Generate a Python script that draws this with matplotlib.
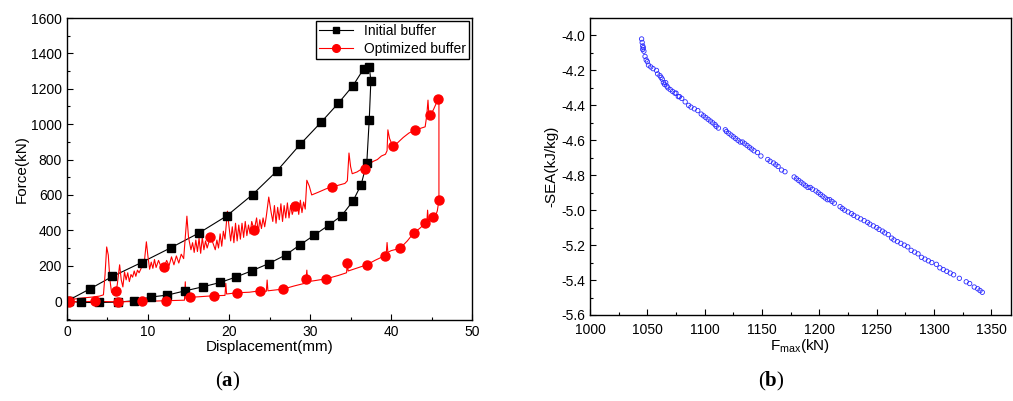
import numpy as np
import matplotlib
matplotlib.use('Agg')
import matplotlib.pyplot as plt
from matplotlib.ticker import MultipleLocator

plt.rcParams['font.family'] = ['Liberation Sans', 'DejaVu Sans']
plt.rcParams['mathtext.fontset'] = 'custom'
plt.rcParams['mathtext.bf'] = 'Liberation Serif:bold'
plt.rcParams['mathtext.rm'] = 'Liberation Sans'

# initial buffer (loading then unloading)
init_x = [0, 2.8, 5.6, 9.2, 12.8, 16.3, 19.7, 22.9, 25.9, 28.8, 31.4, 33.5, 35.3, 36.6, 37.3,
          37.5, 37.3, 37.0, 36.3, 35.3, 33.9, 32.3, 30.5, 28.7, 27.0, 24.9, 22.8, 20.8, 18.9,
          16.8, 14.6, 12.4, 10.4, 8.3, 6.3, 4.0, 1.7, 0.2]
init_y = [0, 68, 139, 218, 301, 385, 481, 602, 735, 887, 1013, 1119, 1218, 1312, 1325,
          1245, 1025, 782, 658, 566, 483, 429, 372, 316, 261, 212, 171, 135, 105,
          81, 58, 34, 23, 2, -6, -8, -8, 0]

# optimized buffer curve
opt_x = [0, 0.3, 1, 2, 3, 4, 4.5, 4.7, 4.9, 5.1, 5.3, 5.5, 5.8, 6.0, 6.2, 6.5, 6.7, 6.9, 7.1, 7.3,
         7.5, 7.7, 7.9, 8.1, 8.3, 8.5, 8.7, 8.9, 9.2, 9.5, 9.8, 10.0, 10.2, 10.4, 10.6, 10.8, 11.0,
         11.3, 11.6, 12.0, 12.3, 12.6, 12.9, 13.2, 13.5, 13.8, 14.1, 14.4, 14.8, 15.0, 15.3, 15.5,
         15.7, 15.9, 16.1, 16.3, 16.5, 16.7, 16.9, 17.1, 17.3, 17.7, 18.0, 18.3, 18.5, 18.7, 18.9,
         19.1, 19.3, 19.5, 19.8, 20.0, 20.2, 20.4, 20.6, 20.8, 21.0, 21.2, 21.4, 21.6, 21.8, 22.0,
         22.2, 22.4, 22.6, 22.8, 23.1, 23.4, 23.6, 23.8, 24.0, 24.2, 24.4, 24.6, 24.9, 25.2, 25.4,
         25.6, 25.8, 26.0, 26.2, 26.4, 26.6, 26.8, 27.0, 27.2, 27.4, 27.6, 27.8, 28.1, 28.4, 28.6,
         28.8, 29.0, 29.2, 29.4, 29.6, 29.9, 30.2, 31.0, 32.0, 32.7, 33.5, 34.3, 34.6, 34.8, 35.0,
         35.2, 35.8, 36.3, 36.8, 37.3, 37.8, 38.3, 38.8, 39.3, 39.5, 39.6, 39.8, 40.2, 40.8, 41.5,
         42.2, 42.9, 43.5, 44.2, 44.4, 44.55, 44.65, 44.8, 45.2, 45.5, 45.8, 45.9,
         45.9, 45.7, 45.5, 45.2, 44.8, 44.6, 44.5, 44.4, 44.2, 43.5, 42.8, 42.0, 41.1, 40.0, 39.6,
         39.5, 39.4, 39.2, 38.0, 37.0, 36.0, 35.0, 34.7, 34.6, 34.5, 33.5, 32.0, 30.5, 29.7, 29.6,
         29.5, 29.3, 28.0, 26.7, 25.5, 24.8, 24.7, 24.6, 23.8, 22.5, 21.0, 19.7, 19.6, 19.5, 18.1,
         16.5, 15.2, 14.7, 14.6, 14.5, 12.2, 9.3, 6.3, 3.5, 0.3]
opt_y = [0, 5, 12, 18, 22, 28, 35, 150, 306, 260, 120, 50, 45, 56, 90, 205, 120, 80, 165, 120,
         160, 110, 150, 135, 170, 140, 175, 160, 190, 200, 335, 250, 180, 220, 185, 235, 190,
         230, 195, 194, 230, 200, 250, 205, 255, 215, 265, 240, 480, 360, 290, 330,
         275, 345, 280, 355, 270, 360, 290, 340, 300, 363, 330, 290, 345, 300, 380,
         310, 395, 350, 508, 420, 340, 420, 330, 440, 340, 430, 350, 440, 360, 450,
         370, 430, 380, 450, 400, 470, 390, 460, 410, 470, 420, 480, 588, 500, 450,
         540, 440, 530, 460, 550, 450, 540, 470, 555, 470, 540, 490, 538, 560, 490,
         570, 500, 560, 520, 683, 650, 600, 615, 635, 645, 655, 665, 680, 837, 760,
         720, 730, 745, 748, 775, 790, 800, 820, 830, 850, 968, 920, 876, 895, 925,
         950, 966, 975, 985, 1050, 1136, 1060, 1051, 1080, 1110, 1141, 1140,
         570, 510, 485, 476, 470, 455, 514, 440, 439, 410, 386, 340, 298, 285, 275,
         331, 270, 256, 230, 205, 190, 175, 170, 213, 160, 145, 126, 115, 110, 175,
         122, 100, 85, 68, 62, 58, 119, 55, 58, 50, 47, 40, 100, 32, 30,
         25, 21, 15, 109, 5, 2, -2, -4, -2, -4]
opt_mx = [0.3, 6.0, 12.0, 17.7, 23.1, 28.1, 32.7, 36.8, 40.2, 42.9, 44.8, 45.8,
          45.9, 45.2, 44.2, 42.8, 41.1, 39.2, 37.0, 34.6, 32.0, 29.5, 26.7, 23.8, 21.0, 18.1,
          15.2, 12.2, 9.3, 6.3, 3.5, 0.3]
opt_my = [0, 56, 194, 363, 400, 538, 645, 748, 876, 966, 1051, 1141,
          570, 476, 439, 386, 298, 256, 205, 213, 126, 122, 68, 58, 47, 30,
          21, 2, -2, -4, -2, -4]

# Pareto points
fmax = [1045, 1045.5, 1046, 1046, 1047, 1046.5, 1048, 1049, 1050, 1051, 1053, 1055, 1058, 1059,
        1061, 1062, 1063, 1064, 1065, 1066, 1067, 1068, 1070, 1072, 1074, 1075, 1077, 1078, 1080,
        1083, 1086, 1088, 1091, 1094, 1097, 1099, 1101, 1103, 1105, 1107, 1109, 1110, 1112, 1118,
        1119, 1121, 1123, 1125, 1127, 1129, 1131, 1133, 1135, 1137, 1139, 1141, 1143, 1146, 1149,
        1155, 1157, 1160, 1162, 1164, 1167, 1170, 1178, 1180, 1182, 1184, 1186, 1188, 1190, 1192,
        1194, 1197, 1199, 1201, 1203, 1205, 1207, 1209, 1211, 1213, 1218, 1220, 1222, 1225, 1228,
        1230, 1233, 1236, 1239, 1242, 1244, 1247, 1250, 1252, 1255, 1257, 1260, 1263, 1265, 1268,
        1271, 1274, 1277, 1280, 1283, 1286, 1289, 1292, 1295, 1298, 1302, 1305, 1308, 1311, 1314,
        1317, 1322, 1328, 1331, 1335, 1338, 1340, 1342]
sea = [-4.02, -4.04, -4.06, -4.08, -4.09, -4.07, -4.12, -4.14, -4.15, -4.17, -4.18, -4.19, -4.20,
       -4.22, -4.23, -4.24, -4.25, -4.27, -4.28, -4.27, -4.29, -4.30, -4.31, -4.32, -4.33, -4.33,
       -4.35, -4.35, -4.36, -4.38, -4.40, -4.41, -4.42, -4.43, -4.45, -4.46, -4.47, -4.48, -4.49,
       -4.50, -4.51, -4.52, -4.53, -4.54, -4.55, -4.56, -4.57, -4.58, -4.59, -4.60, -4.61, -4.61,
       -4.62, -4.63, -4.64, -4.65, -4.66, -4.67, -4.69, -4.71, -4.72, -4.73, -4.74, -4.75, -4.77,
       -4.78, -4.81, -4.82, -4.83, -4.84, -4.85, -4.86, -4.87, -4.87, -4.88, -4.89, -4.90, -4.91,
       -4.92, -4.93, -4.94, -4.94, -4.95, -4.96, -4.98, -4.99, -5.00, -5.01, -5.02, -5.03, -5.04,
       -5.05, -5.06, -5.07, -5.08, -5.09, -5.10, -5.11, -5.12, -5.13, -5.14, -5.16, -5.17, -5.18,
       -5.19, -5.20, -5.21, -5.23, -5.24, -5.25, -5.27, -5.28, -5.29, -5.30, -5.31, -5.33, -5.34,
       -5.35, -5.36, -5.37, -5.39, -5.41, -5.42, -5.44, -5.45, -5.46, -5.47]

fig = plt.figure(figsize=(10.13, 4.01), dpi=100)
ax1 = fig.add_axes([0.0661, 0.202, 0.400, 0.753])
ax2 = fig.add_axes([0.5824, 0.2145, 0.4156, 0.7406])

ax1.plot(init_x, init_y, color='black', lw=0.8)
ax1.plot(opt_x, opt_y, color='red', lw=0.8)
ax1.plot(init_x, init_y, color='black', marker='s', ms=6, ls='none')
ax1.plot(opt_mx, opt_my, color='red', marker='o', ms=6.5, ls='none')
h1, = ax1.plot([], [], color='black', lw=0.8, marker='s', ms=5)
h2, = ax1.plot([], [], color='red', lw=0.8, marker='o', ms=5.5)
leg = ax1.legend([h1, h2], ['Initial buffer', 'Optimized buffer'], loc='upper right',
                 fontsize=10, fancybox=False, edgecolor='black', framealpha=1,
                 borderaxespad=0.2, handlelength=2.4, borderpad=0.25, labelspacing=0.25)
leg.get_frame().set_linewidth(1.0)

ax1.set_xlim(0, 50)
ax1.set_ylim(-107, 1600)
ax1.xaxis.set_major_locator(MultipleLocator(10))
ax1.xaxis.set_minor_locator(MultipleLocator(5))
ax1.yaxis.set_major_locator(MultipleLocator(200))
ax1.yaxis.set_minor_locator(MultipleLocator(100))
ax1.set_xlabel('Displacement(mm)', fontsize=11, labelpad=1)
ax1.set_ylabel('Force(kN)', fontsize=11, labelpad=2)

ax2.scatter(fmax, sea, s=10, facecolors='none', edgecolors='#2a2aff', linewidths=0.6)
ax2.set_xlim(1000, 1367)
ax2.set_ylim(-5.6, -3.9)
ax2.xaxis.set_major_locator(MultipleLocator(50))
ax2.xaxis.set_minor_locator(MultipleLocator(25))
ax2.yaxis.set_minor_locator(MultipleLocator(0.1))
ax2.set_yticks(np.arange(-5.6, -3.95, 0.2))
ax2.set_yticklabels(['%.1f' % v for v in np.arange(-5.6, -3.95, 0.2)])
ax2.set_xlabel(r'F$_{\mathregular{max}}$(kN)', fontsize=11, labelpad=0)

ax2.set_ylabel('-SEA(kJ/kg)', fontsize=11, labelpad=2)

for ax in (ax1, ax2):
    ax.tick_params(which='both', direction='in', top=False, right=False, labelsize=10)
    ax.tick_params(which='major', length=4, width=0.8)
    ax.tick_params(which='minor', length=2.5, width=0.8)
    for s in ax.spines.values():
        s.set_linewidth(1.0)
ax2.tick_params(axis='x', which='major', pad=5.5)

fig.text(0.225, 0.035, r'($\mathbf{a}$)', fontsize=15, family='Liberation Serif', ha='center')
fig.text(0.761, 0.035, r'($\mathbf{b}$)', fontsize=15, family='Liberation Serif', ha='center')

fig.savefig('out.png', dpi=100)
